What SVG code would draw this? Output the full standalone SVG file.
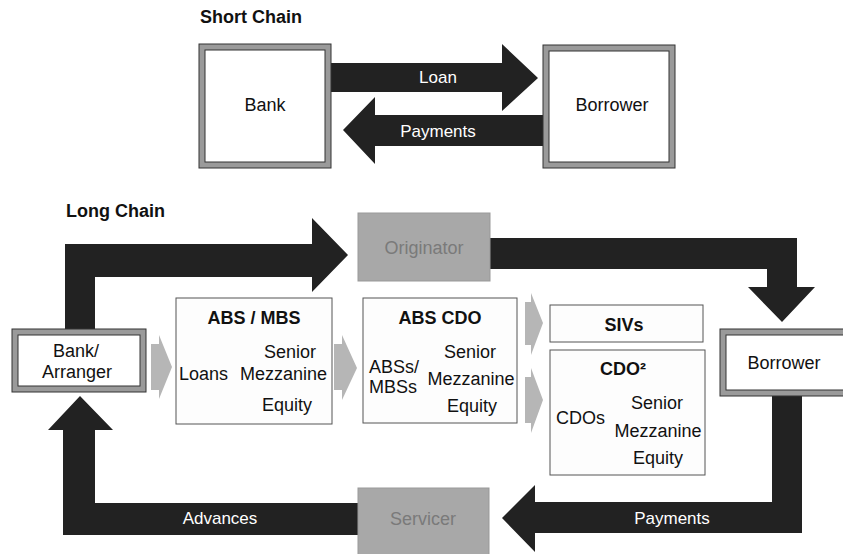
<svg xmlns="http://www.w3.org/2000/svg" width="843" height="554" viewBox="0 0 843 554">
<style>
text{font-family:"Liberation Sans",Arial,sans-serif;font-size:18px;fill:#111}
.t{font-weight:bold}
.c{text-anchor:middle}
.w{fill:#fff;font-size:17px}
.g{fill:#7a7a7a}
.band{fill:#9a9a9a;stroke:#333;stroke-width:1}
.inner{fill:#fff;stroke:#333;stroke-width:1}
.tr{fill:#fdfdfd;stroke:#555;stroke-width:1}
.gb{fill:#a8a8a8;stroke:#999;stroke-width:1}
.dk{fill:#222}
.ch{fill:#b6b6b6}
</style>
<rect width="843" height="554" fill="#fff"/>

<text class="t" x="200" y="23">Short Chain</text>
<text class="t" x="66" y="217">Long Chain</text>

<g id="connectors">
  <!-- short chain -->
  <polygon class="dk" points="331,63 502,63 502,44 538,78 502,111 502,92 331,92"/>
  <polygon class="dk" points="543,115 375,115 375,97 343,130 375,164 375,146 543,146"/>
  <!-- long chain top -->
  <polygon class="dk" points="65,329 65,244 312,244 312,218 348,255 312,292 312,277 95,277 95,329"/>
  <polygon class="dk" points="490,238 797,238 797,287 815,287 782,322 748,287 767,287 767,269 490,269"/>
  <!-- long chain bottom -->
  <polygon class="dk" points="772,396 802,396 802,533 535,533 535,552 502,518 535,485 535,502 772,502"/>
  <polygon class="dk" points="358,503 358,535 63,535 63,430 48,430 80,396 113,430 95,430 95,503"/>
  <!-- grey flow arrows -->
  <polygon class="ch" points="151,344 159,344 159,335 172,367 159,399 159,390 151,390"/>
  <polygon class="ch" points="334,344 342,344 342,335 357,368 342,400 342,390 334,390"/>
  <polygon class="ch" points="525,302 531,302 531,293 543,323 531,355 531,345 525,345"/>
  <polygon class="ch" points="525,377 531,377 531,368 543,400 531,433 531,423 525,423"/>
  <text class="w c" x="438" y="83">Loan</text>
  <text class="w c" x="438" y="137">Payments</text>
  <text class="w c" x="220" y="524">Advances</text>
  <text class="w c" x="672" y="524">Payments</text>
</g>

<g id="bank">
  <rect class="band" x="199" y="44" width="132" height="124"/>
  <rect class="inner" x="205" y="50" width="120" height="112"/>
  <text class="c" x="265" y="111">Bank</text>
</g>
<g id="borrower">
  <rect class="band" x="543" y="45" width="132" height="123"/>
  <rect class="inner" x="549" y="51" width="120" height="111"/>
  <text class="c" x="612" y="111">Borrower</text>
</g>

<g id="bank-arranger">
  <rect class="band" x="12" y="329" width="134" height="63"/>
  <rect class="inner" x="18" y="335" width="122" height="51"/>
  <text class="c" x="76" y="357">Bank/</text>
  <text class="c" x="77" y="378">Arranger</text>
</g>

<g id="originator">
  <rect class="gb" x="358" y="213" width="132" height="68"/>
  <text class="c g" x="424" y="254">Originator</text>
</g>

<g id="servicer">
  <rect class="gb" x="358" y="488" width="131" height="70"/>
  <text class="c g" x="423" y="525">Servicer</text>
</g>

<g id="borrower-long">
  <rect class="band" x="720" y="329" width="140" height="67"/>
  <rect class="inner" x="726" y="335" width="140" height="55"/>
  <text class="c" x="784" y="369">Borrower</text>
</g>

<g id="abs-mbs">
  <rect class="tr" x="176" y="298" width="156" height="126"/>
  <text class="t c" x="254" y="324">ABS / MBS</text>
  <text class="c" x="290" y="358">Senior</text>
  <text x="179" y="380">Loans</text>
  <text x="240" y="380">Mezzanine</text>
  <text class="c" x="287" y="411">Equity</text>
</g>

<g id="abs-cdo">
  <rect class="tr" x="363" y="298" width="154" height="125"/>
  <text class="t c" x="440" y="324">ABS CDO</text>
  <text class="c" x="470" y="358">Senior</text>
  <text x="369" y="373">ABSs/</text>
  <text x="369" y="393">MBSs</text>
  <text class="c" x="471" y="385">Mezzanine</text>
  <text class="c" x="472" y="412">Equity</text>
</g>

<g id="sivs">
  <rect class="tr" x="550" y="305" width="153" height="37"/>
  <text class="t c" x="624" y="331">SIVs</text>
</g>

<g id="cdo2">
  <rect class="tr" x="550" y="350" width="155" height="125"/>
  <text class="t c" x="623" y="375">CDO²</text>
  <text x="556" y="424">CDOs</text>
  <text class="c" x="657" y="409">Senior</text>
  <text class="c" x="658" y="437">Mezzanine</text>
  <text class="c" x="658" y="464">Equity</text>
</g>
</svg>
